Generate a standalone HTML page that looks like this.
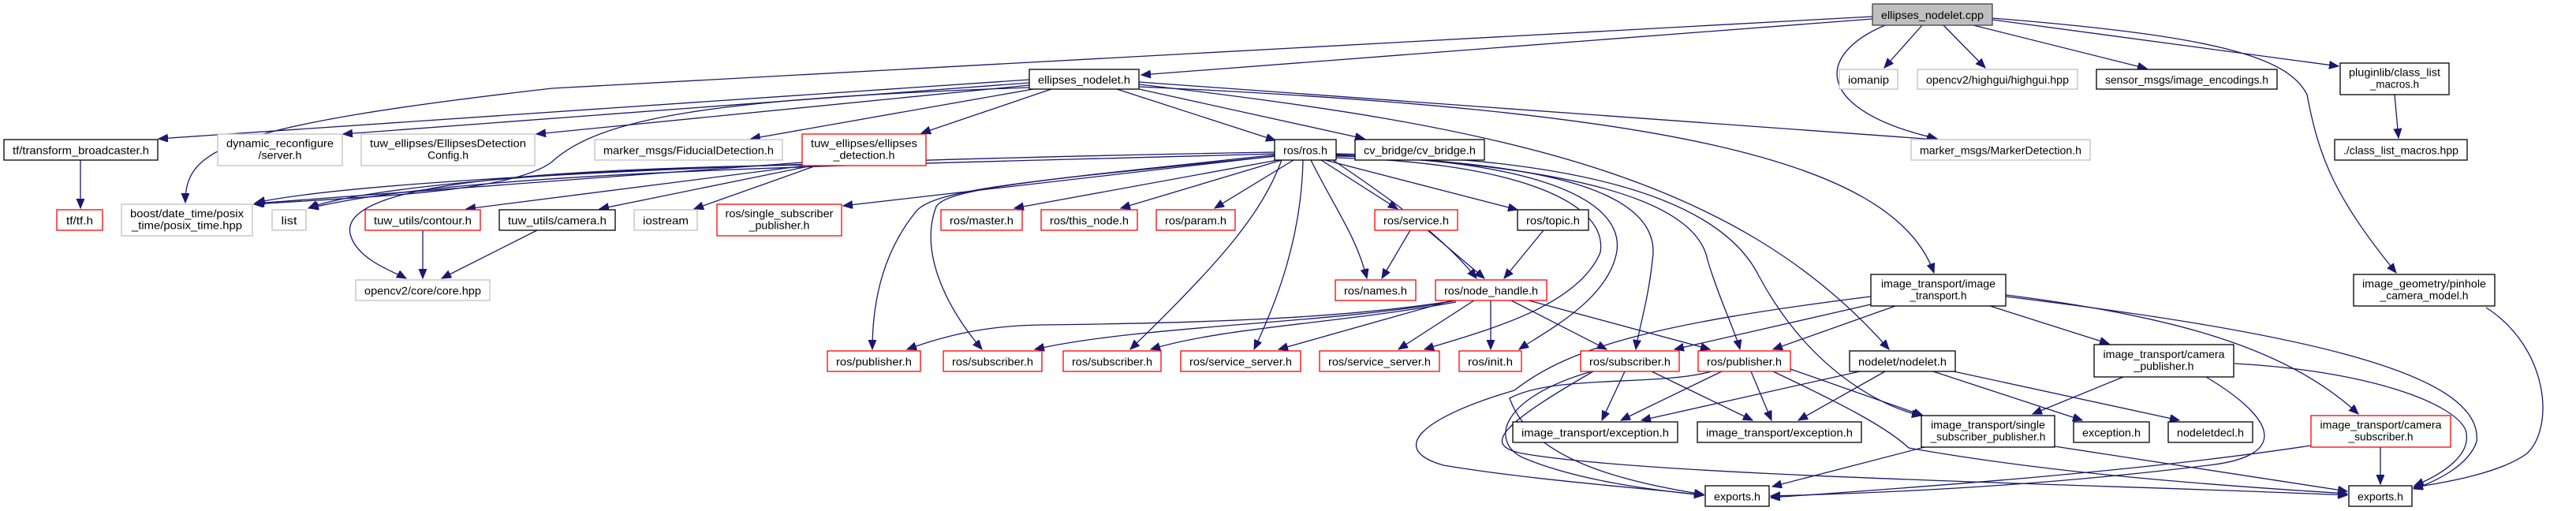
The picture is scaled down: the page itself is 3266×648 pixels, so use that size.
<!DOCTYPE html>
<html><head><meta charset="utf-8"><style>
html,body{margin:0;padding:0;background:#fff}
svg{display:block}
text{font-family:"Liberation Sans",sans-serif;font-size:14px;fill:#000}
.e{fill:none;stroke:#191970;stroke-width:1.3}
.k{fill:#fff;stroke:#000;stroke-width:1.3}
.g{fill:#fff;stroke:#bfbfbf;stroke-width:1.3}
.r{fill:#fff;stroke:#ff0000;stroke-width:1.3}
</style></head><body>
<svg width="3266" height="648" viewBox="0 0 3266 648" xmlns="http://www.w3.org/2000/svg">
<defs><marker id="a" markerUnits="userSpaceOnUse" markerWidth="14" markerHeight="12" refX="12" refY="5" orient="auto"><path d="M0,0 L12,5 L0,10 z" fill="#191970" stroke="#191970"/></marker></defs>
<g marker-end="url(#a)">
<!-- cpp edges -->
<path class="e" d="M2374,24 L1447,95"/>
<path class="e" d="M2374,21 L700,112 C280,160 235,190 235,257"/>
<path class="e" d="M2437,32 L2389,86"/>
<path class="e" d="M2390,32 C2300,70 2300,140 2456,176"/>
<path class="e" d="M2464,32 L2517,86"/>
<path class="e" d="M2502,32 L2722,87"/>
<path class="e" d="M2526,25 L2965,84"/>
<path class="e" d="M2526,23 C2800,45 2900,70 2925,120 C2940,200 2960,250 3038,346"/>
<!-- nodelet.h edges -->
<path class="e" d="M1305,101 L201,176"/>
<path class="e" d="M1305,105 L435,170"/>
<path class="e" d="M1305,108 L680,170"/>
<path class="e" d="M1306,111 C900,125 760,150 700,205 C650,245 450,250 322,259"/>
<path class="e" d="M1310,113 L952,176"/>
<path class="e" d="M1333,113 L1168,169"/>
<path class="e" d="M1416,113 L1617,178"/>
<path class="e" d="M1444,113 L1730,176"/>
<path class="e" d="M1444,104 L2455,177"/>
<path class="e" d="M1444,110 C2100,140 2400,200 2452,346"/>
<path class="e" d="M1444,107 C1900,160 2200,220 2395,443"/>
<!-- ellipses_detection edges -->
<path class="e" d="M1017,209 C700,215 450,240 391,264"/>
<path class="e" d="M1017,206 L323,258"/>
<path class="e" d="M1022,210 L591,265"/>
<path class="e" d="M1030,210 L760,265"/>
<path class="e" d="M1035,210 L880,265"/>
<path class="e" d="M1017,209 C700,215 420,230 445,300 C455,330 500,345 515,353"/>
<!-- ros.h edges -->
<path class="e" d="M1616,193 C1200,200 500,220 324,257"/>
<path class="e" d="M1616,195 C1100,210 600,215 392,264"/>
<path class="e" d="M1616,198 L1069,261"/>
<path class="e" d="M1620,203 L1286,264"/>
<path class="e" d="M1625,203 L1421,264"/>
<path class="e" d="M1640,203 L1540,264"/>
<path class="e" d="M1675,203 L1772,265"/>
<path class="e" d="M1680,203 L1924,266"/>
<path class="e" d="M1662,203 C1690,260 1720,300 1733,353"/>
<path class="e" d="M1690,203 C1760,250 1830,300 1872,353"/>
<path class="e" d="M1618,198 C1300,230 1180,240 1160,270 C1120,320 1106,380 1106,443"/>
<path class="e" d="M1620,196 C1300,230 1200,240 1187,262 C1165,320 1200,390 1245,443"/>
<path class="e" d="M1625,203 C1600,270 1550,330 1433,443"/>
<path class="e" d="M1652,203 C1650,300 1620,380 1590,443"/>
<path class="e" d="M1694,198 C1900,200 2060,240 2050,318 C2040,380 1960,420 1926,443"/>
<path class="e" d="M1694,200 C1900,205 2040,250 2029,320 C2000,390 1880,420 1806,443"/>
<path class="e" d="M1694,197 C1950,205 2110,240 2095,330 C2090,380 2077,420 2074,443"/>
<path class="e" d="M1694,196 C1980,210 2150,250 2165,330 C2180,380 2200,420 2206,443"/>
<path class="e" d="M1694,195 C2000,200 2180,250 2230,350 C2300,480 2400,520 2436,527"/>
<!-- service/topic -->
<path class="e" d="M1788,292 L1752,353"/>
<path class="e" d="M1810,292 L1882,353"/>
<path class="e" d="M1957,292 L1907,353"/>
<!-- node_handle edges -->
<path class="e" d="M1846,381 C1700,405 1500,410 1320,412 C1250,413 1200,425 1150,443"/>
<path class="e" d="M1846,381 C1700,410 1450,412 1312,443"/>
<path class="e" d="M1846,383 C1700,410 1550,415 1459,443"/>
<path class="e" d="M1841,381 L1621,443"/>
<path class="e" d="M1869,381 L1773,443"/>
<path class="e" d="M1890,381 L1890,443"/>
<path class="e" d="M1916,381 L2037,443"/>
<path class="e" d="M1938,381 L2168,443"/>
<!-- image_transport.h edges -->
<path class="e" d="M2372,386 L2123,443"/>
<path class="e" d="M2403,388 L2248,443"/>
<path class="e" d="M2372,376 C2100,410 1990,440 1920,495 C1800,530 1760,570 1830,590 C1950,610 2100,620 2160,628"/>
<path class="e" d="M2523,388 L2674,436"/>
<path class="e" d="M2543,374 C2750,400 2900,440 2990,525"/>
<path class="e" d="M2543,376 C2900,420 3150,470 3140,560 C3130,590 3090,610 3060,620"/>
<!-- subscriber3 edges -->
<path class="e" d="M2060,471 L2031,533"/>
<path class="e" d="M2094,471 L2222,533"/>
<path class="e" d="M2018,471 C1900,505 1890,560 1930,580 C2000,610 2100,622 2160,628"/>
<path class="e" d="M2020,471 C1900,540 1880,565 1930,575 C2100,605 2700,615 2976,628"/>
<!-- publisher2 edges -->
<path class="e" d="M2183,471 L2055,533"/>
<path class="e" d="M2220,471 L2246,533"/>
<path class="e" d="M2170,471 C2100,490 1970,475 1914,505 C1940,580 2050,610 2160,627"/>
<path class="e" d="M2270,468 L2438,527"/>
<path class="e" d="M2248,471 C2330,510 2390,540 2420,568 C2600,600 2800,615 2976,626"/>
<!-- nodelet/nodelet.h edges -->
<path class="e" d="M2358,471 L2081,533"/>
<path class="e" d="M2390,471 L2280,533"/>
<path class="e" d="M2451,471 L2640,533"/>
<path class="e" d="M2477,471 L2763,533"/>
<!-- camera_publisher -->
<path class="e" d="M2692,478 L2577,525"/>
<path class="e" d="M2797,478 C2900,540 2890,580 2800,590 C2600,615 2400,625 2245,629"/>
<path class="e" d="M2833,461 C3000,470 3110,510 3126,545 C3135,575 3100,600 3061,616"/>
<!-- camera_subscriber -->
<path class="e" d="M2930,565 C2700,600 2400,620 2245,631"/>
<path class="e" d="M3018,567 L3018,614"/>
<!-- single sub pub -->
<path class="e" d="M2440,567 L2247,617"/>
<path class="e" d="M2605,566 L2976,623"/>
<!-- pinhole -->
<path class="e" d="M3152,390 C3230,440 3240,540 3204,575 C3170,600 3100,612 3060,618"/>
<!-- misc -->
<path class="e" d="M102,203 L102,264"/>
<path class="e" d="M536,292 L536,353"/>
<path class="e" d="M681,292 L560,353"/>
<path class="e" d="M3036,120 L3041,175"/>
</g>
<!-- nodes -->
<rect x="2374" y="5" width="152" height="27" fill="#bfbfbf" stroke="#404040" stroke-width="1.3"/><text x="2450" y="24" text-anchor="middle" textLength="130" lengthAdjust="spacingAndGlyphs">ellipses_nodelet.cpp</text>
<rect class="k" x="1305" y="88" width="139" height="25"/><text x="1374.5" y="106" text-anchor="middle" textLength="117" lengthAdjust="spacingAndGlyphs">ellipses_nodelet.h</text>
<rect class="g" x="2332" y="88" width="74" height="25"/><text x="2369" y="106" text-anchor="middle" textLength="52" lengthAdjust="spacingAndGlyphs">iomanip</text>
<rect class="g" x="2431" y="88" width="203" height="25"/><text x="2532.5" y="106" text-anchor="middle" textLength="181" lengthAdjust="spacingAndGlyphs">opencv2/highgui/highgui.hpp</text>
<rect class="k" x="2658" y="88" width="229" height="25"/><text x="2772.5" y="106" text-anchor="middle" textLength="207" lengthAdjust="spacingAndGlyphs">sensor_msgs/image_encodings.h</text>
<rect class="k" x="2967" y="80" width="138" height="40"/><text x="3036" y="96.5" text-anchor="middle" textLength="116" lengthAdjust="spacingAndGlyphs">pluginlib/class_list</text><text x="3036" y="111.5" text-anchor="middle" textLength="62" lengthAdjust="spacingAndGlyphs">_macros.h</text>
<rect class="k" x="5" y="177" width="195" height="26"/><text x="102.5" y="195.5" text-anchor="middle" textLength="173" lengthAdjust="spacingAndGlyphs">tf/transform_broadcaster.h</text>
<rect class="g" x="276" y="170" width="158" height="40"/><text x="355" y="186.5" text-anchor="middle" textLength="136" lengthAdjust="spacingAndGlyphs">dynamic_reconfigure</text><text x="355" y="201.5" text-anchor="middle" textLength="55" lengthAdjust="spacingAndGlyphs">/server.h</text>
<rect class="g" x="458" y="170" width="220" height="40"/><text x="568" y="186.5" text-anchor="middle" textLength="198" lengthAdjust="spacingAndGlyphs">tuw_ellipses/EllipsesDetection</text><text x="568" y="201.5" text-anchor="middle" textLength="52" lengthAdjust="spacingAndGlyphs">Config.h</text>
<rect class="g" x="754" y="177" width="238" height="26"/><text x="873" y="195.5" text-anchor="middle" textLength="216" lengthAdjust="spacingAndGlyphs">marker_msgs/FiducialDetection.h</text>
<rect class="r" x="1017" y="170" width="157" height="40"/><text x="1095.5" y="186.5" text-anchor="middle" textLength="135" lengthAdjust="spacingAndGlyphs">tuw_ellipses/ellipses</text><text x="1095.5" y="201.5" text-anchor="middle" textLength="78" lengthAdjust="spacingAndGlyphs">_detection.h</text>
<rect class="k" x="1616" y="177" width="78" height="26"/><text x="1655" y="195.5" text-anchor="middle" textLength="56" lengthAdjust="spacingAndGlyphs">ros/ros.h</text>
<rect class="k" x="1718" y="177" width="164" height="26"/><text x="1800" y="195.5" text-anchor="middle" textLength="142" lengthAdjust="spacingAndGlyphs">cv_bridge/cv_bridge.h</text>
<rect class="g" x="2423" y="177" width="227" height="26"/><text x="2536.5" y="195.5" text-anchor="middle" textLength="205" lengthAdjust="spacingAndGlyphs">marker_msgs/MarkerDetection.h</text>
<rect class="k" x="2960" y="177" width="168" height="26"/><text x="3044" y="195.5" text-anchor="middle" textLength="146" lengthAdjust="spacingAndGlyphs">./class_list_macros.hpp</text>
<rect class="r" x="72" y="266" width="58" height="26"/><text x="101" y="284.5" text-anchor="middle" textLength="34" lengthAdjust="spacingAndGlyphs">tf/tf.h</text>
<rect class="g" x="154" y="259" width="166" height="40"/><text x="237" y="275.5" text-anchor="middle" textLength="144" lengthAdjust="spacingAndGlyphs">boost/date_time/posix</text><text x="237" y="290.5" text-anchor="middle" textLength="140" lengthAdjust="spacingAndGlyphs">_time/posix_time.hpp</text>
<rect class="g" x="345" y="266" width="43" height="26"/><text x="366.5" y="284.5" text-anchor="middle" textLength="20" lengthAdjust="spacingAndGlyphs">list</text>
<rect class="r" x="463" y="266" width="146" height="26"/><text x="536" y="284.5" text-anchor="middle" textLength="124" lengthAdjust="spacingAndGlyphs">tuw_utils/contour.h</text>
<rect class="k" x="633" y="266" width="147" height="26"/><text x="706.5" y="284.5" text-anchor="middle" textLength="125" lengthAdjust="spacingAndGlyphs">tuw_utils/camera.h</text>
<rect class="g" x="804" y="266" width="80" height="26"/><text x="844" y="284.5" text-anchor="middle" textLength="58" lengthAdjust="spacingAndGlyphs">iostream</text>
<rect class="r" x="909" y="259" width="158" height="40"/><text x="988" y="275.5" text-anchor="middle" textLength="137" lengthAdjust="spacingAndGlyphs">ros/single_subscriber</text><text x="988" y="290.5" text-anchor="middle" textLength="77" lengthAdjust="spacingAndGlyphs">_publisher.h</text>
<rect class="r" x="1193" y="266" width="103" height="26"/><text x="1244.5" y="284.5" text-anchor="middle" textLength="81" lengthAdjust="spacingAndGlyphs">ros/master.h</text>
<rect class="r" x="1320" y="266" width="122" height="26"/><text x="1381" y="284.5" text-anchor="middle" textLength="100" lengthAdjust="spacingAndGlyphs">ros/this_node.h</text>
<rect class="r" x="1466" y="266" width="100" height="26"/><text x="1516" y="284.5" text-anchor="middle" textLength="78" lengthAdjust="spacingAndGlyphs">ros/param.h</text>
<rect class="r" x="1743" y="266" width="105" height="26"/><text x="1795.5" y="284.5" text-anchor="middle" textLength="83" lengthAdjust="spacingAndGlyphs">ros/service.h</text>
<rect class="k" x="1924" y="266" width="90" height="26"/><text x="1969" y="284.5" text-anchor="middle" textLength="68" lengthAdjust="spacingAndGlyphs">ros/topic.h</text>
<rect class="g" x="451" y="355" width="170" height="26"/><text x="536" y="373.5" text-anchor="middle" textLength="148" lengthAdjust="spacingAndGlyphs">opencv2/core/core.hpp</text>
<rect class="r" x="1693" y="355" width="102" height="26"/><text x="1744" y="373.5" text-anchor="middle" textLength="80" lengthAdjust="spacingAndGlyphs">ros/names.h</text>
<rect class="r" x="1820" y="355" width="141" height="26"/><text x="1890.5" y="373.5" text-anchor="middle" textLength="119" lengthAdjust="spacingAndGlyphs">ros/node_handle.h</text>
<rect class="k" x="2372" y="348" width="171" height="40"/><text x="2457.5" y="364.5" text-anchor="middle" textLength="145" lengthAdjust="spacingAndGlyphs">image_transport/image</text><text x="2457.5" y="379.5" text-anchor="middle" textLength="72" lengthAdjust="spacingAndGlyphs">_transport.h</text>
<rect class="k" x="2984" y="348" width="179" height="40"/><text x="3073.5" y="364.5" text-anchor="middle" textLength="157" lengthAdjust="spacingAndGlyphs">image_geometry/pinhole</text><text x="3073.5" y="379.5" text-anchor="middle" textLength="112" lengthAdjust="spacingAndGlyphs">_camera_model.h</text>
<rect class="r" x="1049" y="445" width="118" height="26"/><text x="1108" y="463.5" text-anchor="middle" textLength="96" lengthAdjust="spacingAndGlyphs">ros/publisher.h</text>
<rect class="r" x="1196" y="445" width="125" height="26"/><text x="1258.5" y="463.5" text-anchor="middle" textLength="103" lengthAdjust="spacingAndGlyphs">ros/subscriber.h</text>
<rect class="r" x="1348" y="445" width="124" height="26"/><text x="1410" y="463.5" text-anchor="middle" textLength="102" lengthAdjust="spacingAndGlyphs">ros/subscriber.h</text>
<rect class="r" x="1497" y="445" width="152" height="26"/><text x="1573" y="463.5" text-anchor="middle" textLength="130" lengthAdjust="spacingAndGlyphs">ros/service_server.h</text>
<rect class="r" x="1673" y="445" width="152" height="26"/><text x="1749" y="463.5" text-anchor="middle" textLength="130" lengthAdjust="spacingAndGlyphs">ros/service_server.h</text>
<rect class="r" x="1850" y="445" width="79" height="26"/><text x="1889.5" y="463.5" text-anchor="middle" textLength="57" lengthAdjust="spacingAndGlyphs">ros/init.h</text>
<rect class="r" x="2004" y="445" width="125" height="26"/><text x="2066.5" y="463.5" text-anchor="middle" textLength="103" lengthAdjust="spacingAndGlyphs">ros/subscriber.h</text>
<rect class="r" x="2153" y="445" width="117" height="26"/><text x="2211.5" y="463.5" text-anchor="middle" textLength="95" lengthAdjust="spacingAndGlyphs">ros/publisher.h</text>
<rect class="k" x="2345" y="445" width="134" height="26"/><text x="2412" y="463.5" text-anchor="middle" textLength="112" lengthAdjust="spacingAndGlyphs">nodelet/nodelet.h</text>
<rect class="k" x="2655" y="437" width="177" height="41"/><text x="2743.5" y="454" text-anchor="middle" textLength="154" lengthAdjust="spacingAndGlyphs">image_transport/camera</text><text x="2743.5" y="469" text-anchor="middle" textLength="76" lengthAdjust="spacingAndGlyphs">_publisher.h</text>
<rect class="k" x="1918" y="535" width="209" height="26"/><text x="2022.5" y="553.5" text-anchor="middle" textLength="187" lengthAdjust="spacingAndGlyphs">image_transport/exception.h</text>
<rect class="k" x="2152" y="535" width="208" height="26"/><text x="2256" y="553.5" text-anchor="middle" textLength="186" lengthAdjust="spacingAndGlyphs">image_transport/exception.h</text>
<rect class="k" x="2436" y="527" width="169" height="40"/><text x="2520.5" y="543.5" text-anchor="middle" textLength="145" lengthAdjust="spacingAndGlyphs">image_transport/single</text><text x="2520.5" y="558.5" text-anchor="middle" textLength="146" lengthAdjust="spacingAndGlyphs">_subscriber_publisher.h</text>
<rect class="k" x="2629" y="535" width="96" height="26"/><text x="2677" y="553.5" text-anchor="middle" textLength="74" lengthAdjust="spacingAndGlyphs">exception.h</text>
<rect class="k" x="2749" y="535" width="107" height="26"/><text x="2802.5" y="553.5" text-anchor="middle" textLength="85" lengthAdjust="spacingAndGlyphs">nodeletdecl.h</text>
<rect class="r" x="2930" y="527" width="177" height="40"/><text x="3018.5" y="543.5" text-anchor="middle" textLength="154" lengthAdjust="spacingAndGlyphs">image_transport/camera</text><text x="3018.5" y="558.5" text-anchor="middle" textLength="82" lengthAdjust="spacingAndGlyphs">_subscriber.h</text>
<rect class="k" x="2162" y="616" width="81" height="26"/><text x="2202.5" y="634.5" text-anchor="middle" textLength="59" lengthAdjust="spacingAndGlyphs">exports.h</text>
<rect class="k" x="2978" y="616" width="80" height="26"/><text x="3018" y="634.5" text-anchor="middle" textLength="58" lengthAdjust="spacingAndGlyphs">exports.h</text>
</svg>
</body></html>
